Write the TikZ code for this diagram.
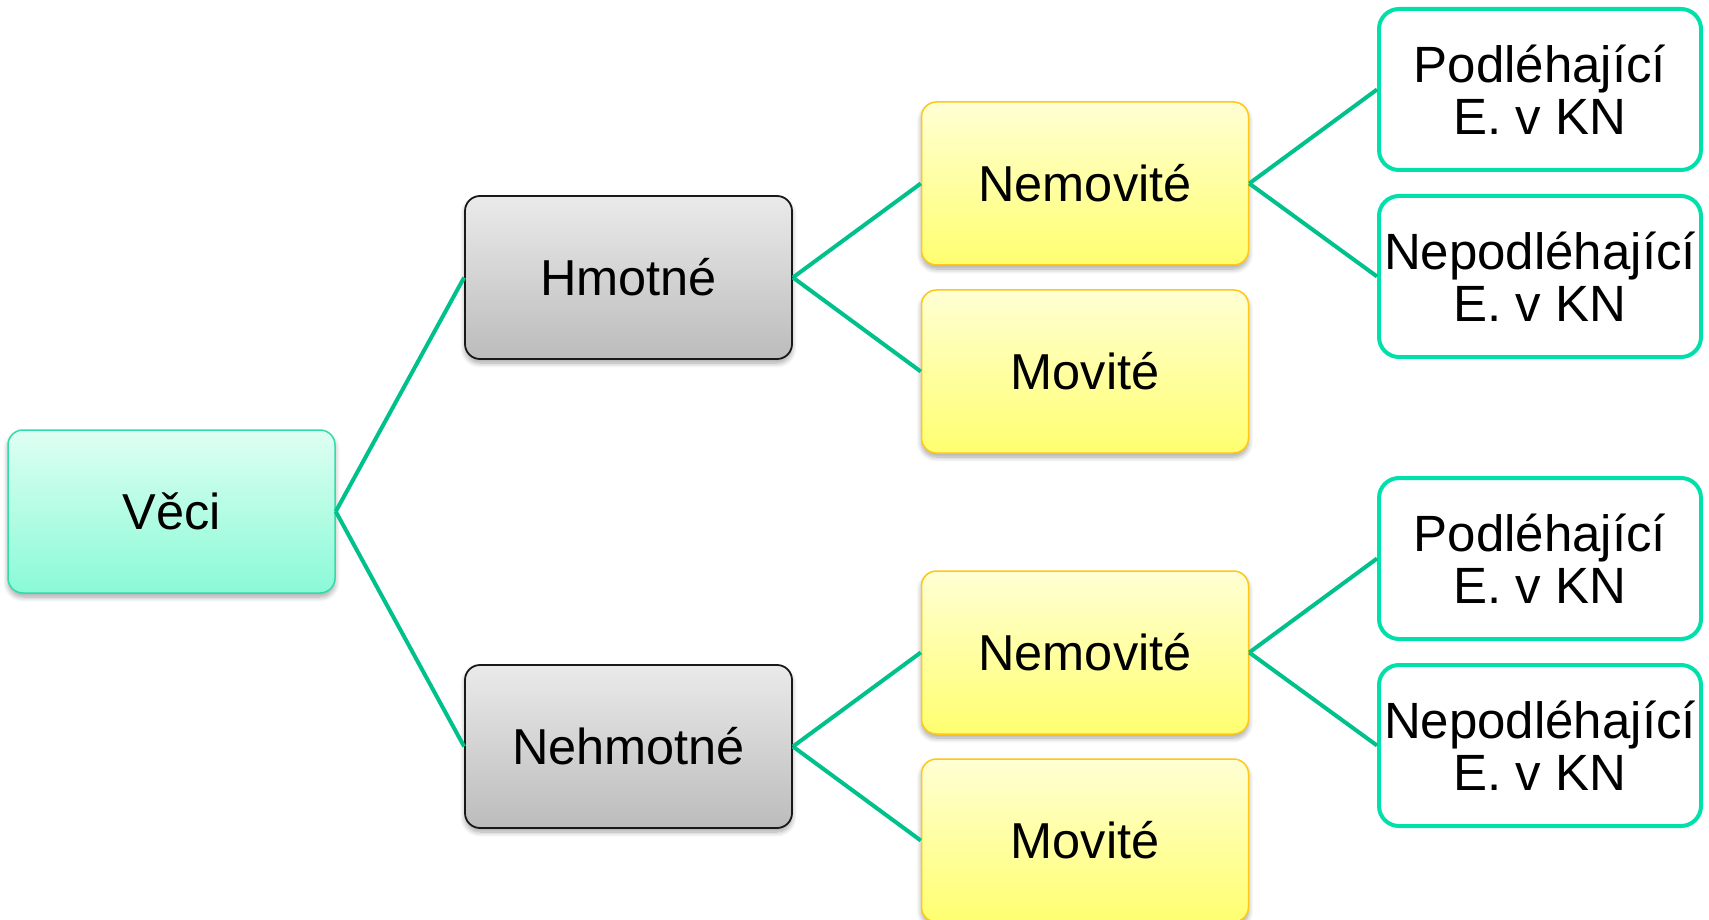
\documentclass[tikz,border=0pt]{standalone}
\usepackage{fontspec}
\setmainfont{Liberation Sans}
\usetikzlibrary{shadows.blur}

\definecolor{linkgreen}{RGB}{0,192,140}
\definecolor{leafedge}{RGB}{0,224,170}
\definecolor{roottop}{RGB}{222,255,243}
\definecolor{rootbot}{RGB}{138,250,214}
\definecolor{rootedge}{RGB}{50,220,170}
\definecolor{greytop}{RGB}{234,234,234}
\definecolor{greybot}{RGB}{188,188,188}
\definecolor{yeltop}{RGB}{255,255,212}
\definecolor{yelbot}{RGB}{255,255,112}
\definecolor{yeledge}{RGB}{255,200,20}

\tikzset{
  box/.style={rounded corners=15pt, minimum width=327pt, minimum height=163pt,
    inner sep=0pt, align=center, font=\fontsize{50.5}{52}\selectfont},
  softshadow/.style={blur shadow={shadow xshift=0pt, shadow yshift=-4pt,
    shadow blur radius=5pt, shadow blur steps=8, shadow opacity=35}},
  rootbox/.style={box, softshadow, draw=rootedge, line width=1.5pt,
    top color=roottop, bottom color=rootbot},
  greybox/.style={box, softshadow, draw=black!90, line width=1.8pt,
    top color=greytop, bottom color=greybot},
  yellowbox/.style={box, softshadow, draw=yeledge, line width=1.5pt,
    top color=yeltop, bottom color=yelbot},
  leafbox/.style={box, rounded corners=20pt, draw=leafedge, line width=4pt,
    fill=white, minimum width=322pt, minimum height=161pt,
    font=\fontsize{51}{52}\selectfont},
  link/.style={draw=linkgreen, line width=4pt}
}

\begin{document}
\begin{tikzpicture}[x=1pt,y=-1pt]
  \useasboundingbox (0,0) rectangle (1709,920);
  \clip (0,0) rectangle (1709,920);

  % root
  \node[rootbox] (veci) at (171.5,511.5) {Věci};

  % second level
  \node[greybox] (hmotne) at (628.5,277.5) {Hmotné};
  \node[greybox] (nehmotne) at (628.5,746.5) {Nehmotné};

  % third level
  \node[yellowbox] (nem1) at (1085,183.5) {Nemovité};
  \node[yellowbox] (mov1) at (1085,371.5) {Movité};
  \node[yellowbox] (nem2) at (1085,652.5) {Nemovité};
  \node[yellowbox] (mov2) at (1085,840.5) {Movité};

  % leaves
  \node[leafbox] (pod1) at (1540,89.5) {Podléhající\\E. v KN};
  \node[leafbox] (nep1) at (1540,276.5) {Nepodléhající\\E. v KN};
  \node[leafbox] (pod2) at (1540,558.5) {Podléhající\\E. v KN};
  \node[leafbox] (nep2) at (1540,745.5) {Nepodléhající\\E. v KN};

  % connectors
  \draw[link] (veci.east) -- (hmotne.west);
  \draw[link] (veci.east) -- (nehmotne.west);
  \draw[link] (hmotne.east) -- (nem1.west);
  \draw[link] (hmotne.east) -- (mov1.west);
  \draw[link] (nehmotne.east) -- (nem2.west);
  \draw[link] (nehmotne.east) -- (mov2.west);
  \draw[link] (nem1.east) -- (pod1.west);
  \draw[link] (nem1.east) -- (nep1.west);
  \draw[link] (nem2.east) -- (pod2.west);
  \draw[link] (nem2.east) -- (nep2.west);
\end{tikzpicture}
\end{document}
